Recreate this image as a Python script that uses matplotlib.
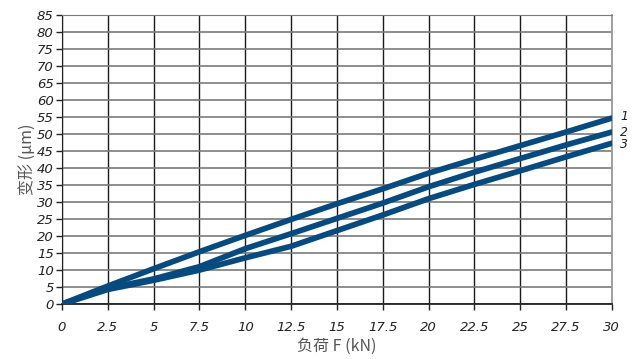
import matplotlib
matplotlib.use('Agg')
import matplotlib.pyplot as plt

# load F (kN)
load = [0, 2.5, 5, 7.5, 10, 12.5, 15, 17.5, 20, 22.5, 25, 27.5, 30]
# deformation (um) for the three curves
curve1 = [0, 5.3, 10.4, 15.4, 20.2, 24.9, 29.5, 33.9, 38.5, 42.6, 46.6, 50.6, 54.7]
curve2 = [0, 4.6, 7.4, 11.0, 16.3, 20.7, 25.2, 29.7, 34.5, 38.8, 42.8, 46.8, 50.6]
curve3 = [0, 4.3, 7.0, 10.0, 13.6, 17.0, 21.6, 26.2, 31.0, 35.2, 39.2, 43.3, 47.3]
curve_names = ['1', '2', '3']

x_ticks = [0, 2.5, 5, 7.5, 10, 12.5, 15, 17.5, 20, 22.5, 25, 27.5, 30]
x_ticklabels = ['0', '2.5', '5', '7.5', '10', '12.5', '15', '17.5', '20', '22.5', '25', '27.5', '30']
y_ticks = list(range(0, 90, 5))

plt.rcParams['font.family'] = ['Noto Sans CJK SC', 'DejaVu Sans']

line_color = '#064a80'

fig = plt.figure(figsize=(6.36, 3.59), dpi=100)
ax = fig.add_axes([0.0975, 0.153, 0.8645, 0.805])

for vals in (curve1, curve2, curve3):
    ax.plot(load, vals, color=line_color, lw=4.1, solid_capstyle='round',
            solid_joinstyle='round', zorder=3)

# curve numbers at the right end, nudged apart a little
offsets = [1, 0, -1]
for name, vals, dy in zip(curve_names, (curve1, curve2, curve3), offsets):
    ax.annotate(name, xy=(load[-1], vals[-1]), xytext=(6, dy), textcoords='offset points',
                ha='left', va='center', fontsize=9, style='italic',
                family='DejaVu Sans', color='#222222', annotation_clip=False)

ax.set_xlim(0, 30)
ax.set_ylim(0, 85)
ax.set_xticks(x_ticks)
ax.set_xticklabels(x_ticklabels)
ax.set_yticks(y_ticks)

for lbl in ax.get_xticklabels() + ax.get_yticklabels():
    lbl.set_fontfamily('DejaVu Sans')
    lbl.set_fontstyle('italic')
    lbl.set_fontsize(9.5)
    lbl.set_color('#222222')

ax.tick_params(axis='both', direction='out', length=4, width=1, color='#222222')
ax.tick_params(axis='x', pad=8)
ax.tick_params(axis='y', pad=2)

ax.xaxis.grid(True, color='#1a1a1a', lw=1)
ax.yaxis.grid(True, color='#7a7a7a', lw=1.2)
ax.set_axisbelow(True)

ax.spines['left'].set_color('#222222')
ax.spines['bottom'].set_color('#222222')
ax.spines['bottom'].set_linewidth(1.3)
ax.spines['right'].set_color('#9a9a9a')
ax.spines['right'].set_linewidth(1.3)
ax.spines['top'].set_color('#7a7a7a')

ax.set_xlabel('负荷 F (kN)', fontsize=11.5, color='#555555', labelpad=3)
ax.set_ylabel('变形 (μm)', fontsize=11.5, color='#555555', labelpad=1)

fig.savefig('out.png', dpi=100)
